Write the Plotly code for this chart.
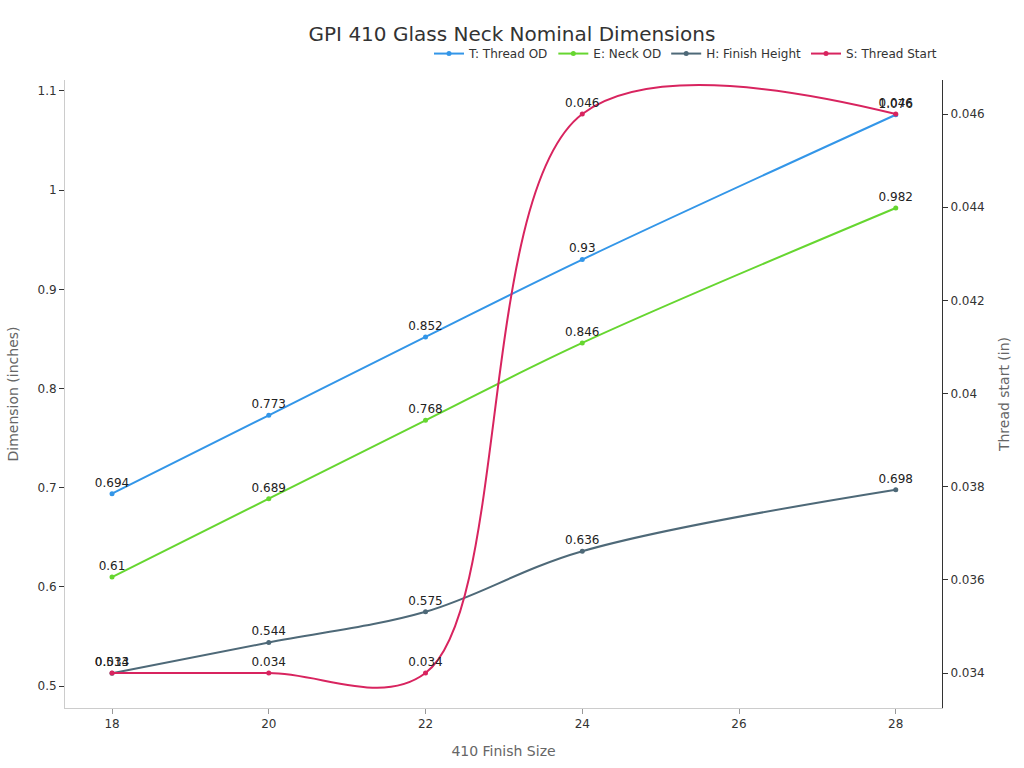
import plotly.graph_objects as go

# 410 finish sizes and nominal dimensions (inches)
sizes = [18, 20, 22, 24, 28]
thread_od = [0.694, 0.773, 0.852, 0.93, 1.076]
neck_od = [0.61, 0.689, 0.768, 0.846, 0.982]
finish_height = [0.513, 0.544, 0.575, 0.636, 0.698]
thread_start = [0.034, 0.034, 0.034, 0.046, 0.046]

fnt = "DejaVu Sans"


def line(y, name, color, axis="y"):
    return go.Scatter(
        x=sizes, y=y, name=name, yaxis=axis,
        mode="lines+markers+text",
        text=[str(v) for v in y], textposition="top center",
        textfont=dict(size=12, color="#222222"),
        line=dict(color=color, width=2, shape="spline"),
        marker=dict(size=5, color=color),
    )


fig = go.Figure()
fig.add_trace(line(thread_od, "T: Thread OD", "#3396e8"))
fig.add_trace(line(neck_od, "E: Neck OD", "#66d630"))
fig.add_trace(line(finish_height, "H: Finish Height", "#4e6978"))
fig.add_trace(line(thread_start, "S: Thread Start", "#d8245f", "y2"))

fig.update_layout(
    width=1024, height=768,
    font=dict(family=fnt, size=12, color="#333333"),
    paper_bgcolor="white", plot_bgcolor="white",
    title=dict(text="GPI 410 Glass Neck Nominal Dimensions", x=0.5, y=0.965,
               xanchor="center", font=dict(size=20, color="#333333")),
    legend=dict(orientation="h", x=1.0, y=1.019, xanchor="right", yanchor="bottom",
                font=dict(size=12), bgcolor="rgba(0,0,0,0)"),
    margin=dict(l=65, r=82, t=80, b=60),
    showlegend=True,
    xaxis=dict(title=dict(text="410 Finish Size", font=dict(size=14, color="#666666")),
               range=[17.4, 28.59], tickvals=[18, 20, 22, 24, 26, 28],
               showgrid=False, zeroline=False, showline=True, linecolor="#cccccc",
               ticks="outside", tickcolor="#999999", ticklen=5),
    yaxis=dict(title=dict(text="Dimension (inches)", font=dict(size=14, color="#666666")),
               range=[0.478, 1.111], dtick=0.1,
               showgrid=False, zeroline=False, showline=True, linecolor="#cccccc",
               ticks="outside", tickcolor="#333333", ticklen=5),
    yaxis2=dict(title=dict(text="Thread start (in)", font=dict(size=14, color="#666666")),
                overlaying="y", side="right", range=[0.03325, 0.04673], dtick=0.002,
                showgrid=False, zeroline=False, showline=True, linecolor="#333333",
                ticks="outside", tickcolor="#333333", ticklen=5),
)

# page body margin removed so the 1024x768 figure sits at the window corner
fig.write_html("out.html", config={"displayModeBar": False},
               post_script="document.body.style.margin='0';")
